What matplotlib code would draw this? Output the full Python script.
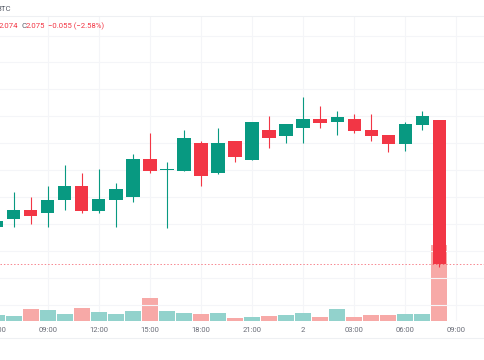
import matplotlib
matplotlib.use("Agg")
import matplotlib.pyplot as plt
import numpy as np

# ---------------- data (1h candles) ----------------
times = ["06:00", "07:00", "08:00", "09:00", "10:00", "11:00", "12:00", "13:00",
         "14:00", "15:00", "16:00", "17:00", "18:00", "19:00", "20:00", "21:00",
         "22:00", "23:00", "00:00", "01:00", "02:00", "03:00", "04:00", "05:00",
         "06:00", "07:00", "08:00"]
opens = [2.0889, 2.0919, 2.0951, 2.0939, 2.0988, 2.1041, 2.0949, 2.0988,
         2.0999, 2.1140, 2.1100, 2.1097, 2.1201, 2.1088, 2.1208, 2.1137,
         2.1249, 2.1228, 2.1257, 2.1288, 2.1277, 2.1288, 2.1249, 2.1229,
         2.1198, 2.1267, 2.1287]
highs = [2.0920, 2.1018, 2.1001, 2.1041, 2.1119, 2.1090, 2.1103, 2.1051,
         2.1159, 2.1239, 2.1131, 2.1249, 2.1209, 2.1258, 2.1209, 2.1278,
         2.1299, 2.1270, 2.1370, 2.1338, 2.1319, 2.1308, 2.1308, 2.1229,
         2.1277, 2.1319, 2.1287]
lows = [2.0880, 2.0889, 2.0899, 2.0889, 2.0951, 2.0941, 2.0939, 2.0889,
        2.0982, 2.1090, 2.0883, 2.1095, 2.1041, 2.1087, 2.1131, 2.1137,
        2.1181, 2.1199, 2.1199, 2.1257, 2.1229, 2.1239, 2.1209, 2.1168,
        2.1169, 2.1249, 2.0740]
closes = [2.0910, 2.0951, 2.0930, 2.0990, 2.1039, 2.0949, 2.0991, 2.1030,
          2.1140, 2.1097, 2.1100, 2.1220, 2.1078, 2.1199, 2.1149, 2.1277,
          2.1218, 2.1270, 2.1288, 2.1276, 2.1298, 2.1246, 2.1227, 2.1198,
          2.1270, 2.1299, 2.0750]
volumes = [60, 53, 120, 110, 70, 130, 93, 70, 100, 230, 100, 80, 70, 80,
           30, 40, 47, 60, 77, 40, 120, 40, 57, 57, 70, 67, 760]

tick_hours = [9, 12, 15, 18, 21, 24, 27, 30, 33]
tick_labels = ["09:00", "12:00", "15:00", "18:00", "21:00", "2", "03:00", "06:00", "09:00"]
first_hour = 6
last_price = 2.075

# ---------------- style ----------------
UP, DOWN = "#089981", "#f23645"
VOL_UP, VOL_DOWN = "#92d2cc", "#f7a9a7"
GRID = "#f4f5f8"
TXT = "#6a6d78"
FONT = ["Roboto", "DejaVu Sans"]

W, H = 485, 360
fig = plt.figure(figsize=(W / 100, H / 100), dpi=100)
fig.patch.set_facecolor("white")
top_px, bot_px = 16, 321
rect = [0, (H - bot_px) / H, 1, (bot_px - top_px) / H]

vax = fig.add_axes(rect)          # volume (behind)
ax = fig.add_axes(rect, sharex=vax)  # price (front)
ax.set_zorder(2)
vax.set_zorder(1)
ax.patch.set_visible(False)

px_per_hour = 17.02
x0 = 9 - 47.8 / px_per_hour
ax.set_xlim(x0, x0 + W / px_per_hour)
ax.set_ylim(2.05387, 2.16725)
vax.set_ylim(0, (bot_px - top_px) * 10)

x = np.arange(len(times)) + first_hour
o = np.array(opens); c = np.array(closes)
hi = np.array(highs); lo = np.array(lows)
up = c >= o

# grid
for p in np.arange(2.06, 2.17, 0.01):
    ax.axhline(p, color=GRID, lw=0.8, zorder=0)
for th in tick_hours:
    vax.axvline(th, color=GRID, lw=0.8, zorder=0)

# volume
vax.bar(x, volumes, width=0.94, color=np.where(up, VOL_UP, VOL_DOWN), zorder=2)

# candles
min_body = (ax.get_ylim()[1] - ax.get_ylim()[0]) / (bot_px - top_px)
body_bottom = np.minimum(o, c)
body_h = np.maximum(np.abs(c - o), min_body)
cols = np.where(up, UP, DOWN)
ax.vlines(x, lo, hi, colors=cols, lw=0.8, zorder=3)
ax.bar(x, body_h, bottom=body_bottom, width=0.78, color=cols, lw=0, zorder=4)

# last price line
ax.axhline(last_price, color=DOWN, lw=0.7, ls=(0, (1.5, 2)), alpha=0.6, zorder=5)

for a in (ax, vax):
    for s in a.spines.values():
        s.set_visible(False)
    a.set_yticks([])
vax.tick_params(axis="x", length=0, pad=4.5, labelsize=5.5, labelcolor=TXT)
vax.set_xticks(tick_hours)
vax.set_xticklabels(tick_labels, fontfamily=FONT)
ax.tick_params(axis="x", labelbottom=False, length=0)

# partially visible first time label (cut by the left edge, as in the source)
fig.text((47.8 - 3 * px_per_hour) / W, 1 - 330 / H, "06:00", ha="center", va="center",
         fontsize=5.5, color=TXT, family=FONT)

# separators
fig.add_artist(plt.Line2D([0, 1], [1 - top_px / H] * 2, color="#eef0f3", lw=0.8))
fig.add_artist(plt.Line2D([0, 1], [1 - 338 / H] * 2, color="#eef0f3", lw=0.8))

# header texts
def ftxt(xp, yp, s, color):
    fig.text(xp / W, 1 - yp / H, s, ha="left", va="center", fontsize=5.6,
             color=color, family=FONT)

ftxt(-4, 9.3, "BTC", "#555a66")
ftxt(-1.5, 25.7, "2.074", DOWN)
ftxt(22, 25.7, "C", "#555a66")
ftxt(26, 25.7, "2.075", DOWN)
ftxt(48, 25.7, "\u22120.055 (\u22122.58%)", DOWN)

fig.savefig("out.png", dpi=100, facecolor="white")
